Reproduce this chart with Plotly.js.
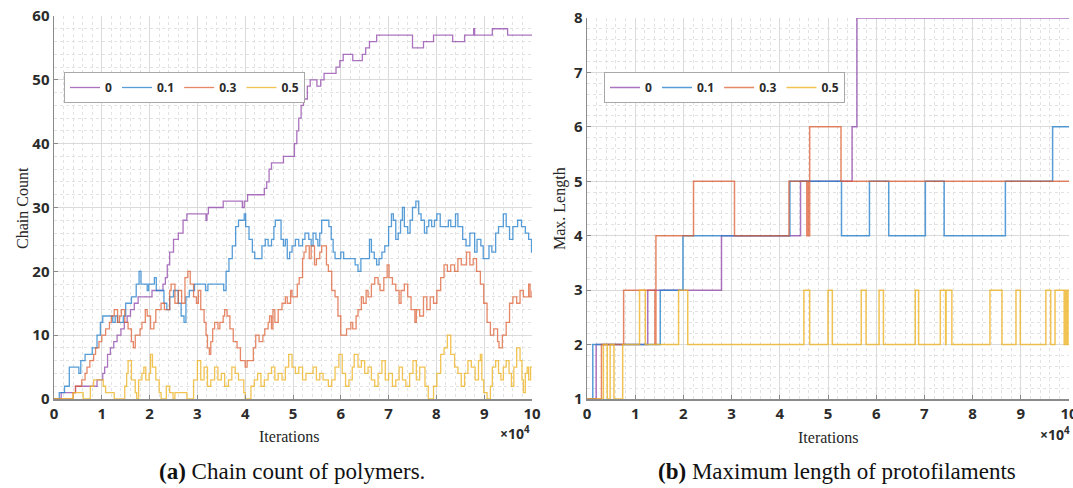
<!DOCTYPE html>
<html>
<head>
<meta charset="utf-8">
<script src="https://cdn.plot.ly/plotly-3.0.1.min.js"></script>
<style>
  html, body { margin: 0; padding: 0; background: #ffffff; }
  #chart { width: 1073px; height: 488px; }
</style>
</head>
<body>
<div id="chart"></div>
<script>
// ---------- Data (iterations in units of 10^4) ----------
const seriesNames = ["0", "0.1", "0.3", "0.5"];

// (a) Chain count of polymers
const chainIter_0  = [0,0.15,0.45,0.9,1.02,1.06,1.12,1.18,1.25,1.32,1.4,1.47,1.53,1.6,1.68,1.76,2.05,2.28,2.33,2.37,2.42,2.5,2.6,2.7,2.78,3.18,3.2,3.23,3.54,3.94,3.98,4.05,4.4,4.45,4.5,4.55,4.8,5.03,5.08,5.12,5.17,5.22,5.3,5.36,5.5,5.58,5.65,5.9,5.98,6.05,6.25,6.45,6.52,6.6,6.75,7.5,7.73,7.94,8.34,8.59,8.78,8.8,9.17,9.49,10];
const chainCount_0 = [0,1,2,3,4,5,7,8,9,10,11,12,13,14,15,16,17,18,19,21,23,25,26,28,29,28,29,30,31,30,31,32,33,34,36,37,38,40,42,44,46,47,49,50,49,50,51,52,53,54,53,54,55,56,57,55,56,57,56,57,58,57,58,57,57];

const chainIter_01  = [0,0.11,0.22,0.32,0.52,0.56,0.65,0.8,0.9,0.97,1.02,1.23,1.28,1.33,1.45,1.5,1.62,1.72,1.78,1.82,1.95,1.98,2.1,2.14,2.3,2.36,2.42,2.5,2.6,2.66,2.72,2.76,2.83,2.94,3.17,3.22,3.55,3.6,3.66,3.73,3.8,3.86,3.98,4.01,4.08,4.15,4.2,4.35,4.42,4.48,4.55,4.6,4.63,4.75,4.8,4.84,4.88,4.93,4.98,5.05,5.12,5.2,5.25,5.33,5.38,5.42,5.48,5.52,5.56,5.6,5.75,5.8,5.84,5.88,6.0,6.06,6.3,6.36,6.42,6.6,6.64,6.7,6.75,6.8,6.86,6.92,7.0,7.06,7.1,7.15,7.2,7.25,7.29,7.33,7.4,7.45,7.5,7.57,7.63,7.68,7.75,7.8,7.84,7.9,7.96,8.01,8.08,8.25,8.3,8.4,8.45,8.55,8.62,8.7,8.8,8.85,8.93,8.98,9.1,9.16,9.24,9.3,9.4,9.46,9.53,9.6,9.7,9.78,9.86,9.93,9.99,10];
const chainCount_01 = [0,1,2,5,4,6,7,8,10,12,13,12,13,12,13,15,16,18,20,18,17,18,19,17,15,14,16,17,15,13,12,16,17,18,17,18,17,20,22,24,27,28,29,27,25,23,22,24,25,24,25,27,28,25,24,25,22,23,24,25,24,25,26,25,24,26,25,24,26,28,27,25,23,22,23,22,21,20,22,25,23,22,21,22,23,24,27,29,28,25,26,28,30,27,26,28,30,31,29,28,26,27,28,27,28,29,27,28,27,29,27,25,24,26,23,25,24,22,24,23,26,27,29,27,25,27,28,27,26,25,23,23];

const chainIter_03  = [0,0.4,0.45,0.58,0.65,0.69,0.75,0.83,0.87,0.94,1.0,1.08,1.16,1.2,1.26,1.33,1.37,1.41,1.48,1.55,1.62,1.66,1.7,1.8,1.84,1.91,1.95,2.02,2.09,2.13,2.24,2.31,2.42,2.45,2.53,2.6,2.67,2.74,2.8,2.85,2.92,2.98,3.02,3.07,3.14,3.18,3.21,3.25,3.28,3.32,3.36,3.43,3.47,3.54,3.57,3.62,3.68,3.75,3.83,3.9,4.0,4.04,4.17,4.22,4.29,4.37,4.41,4.48,4.51,4.55,4.58,4.62,4.69,4.77,4.84,4.88,4.95,4.98,5.09,5.13,5.2,5.23,5.27,5.34,5.38,5.45,5.49,5.56,5.6,5.7,5.74,5.81,5.88,5.94,6.0,6.12,6.21,6.25,6.32,6.36,6.43,6.47,6.53,6.57,6.64,6.71,6.78,6.82,6.9,6.97,7.01,7.08,7.15,7.22,7.26,7.33,7.4,7.47,7.55,7.58,7.65,7.73,7.8,7.87,7.94,8.01,8.09,8.16,8.23,8.3,8.38,8.45,8.52,8.63,8.7,8.77,8.84,8.92,8.99,9.06,9.13,9.2,9.28,9.31,9.38,9.46,9.53,9.6,9.68,9.75,9.82,9.93,9.96,10];
const chainCount_03 = [0,1,2,3,4,5,6,7,8,9,10,11,12,13,14,12,13,14,12,11,9,8,10,11,12,14,13,11,12,14,15,14,17,18,15,17,15,19,20,18,16,15,17,14,12,10,8,7,9,11,12,11,12,13,14,13,11,9,8,6,5,6,8,10,9,10,11,12,13,11,14,12,14,15,16,15,17,16,18,19,22,23,24,22,24,21,22,23,24,21,20,17,16,13,10,11,12,11,13,14,16,15,17,16,18,19,18,17,19,21,19,18,17,15,17,18,16,14,12,14,13,16,14,16,15,17,19,21,20,21,20,22,21,23,21,22,20,18,15,12,10,11,9,8,10,12,15,16,15,17,16,18,16,17];

const chainIter_05  = [0,0.4,0.61,0.76,0.83,1.03,1.08,1.26,1.48,1.52,1.55,1.62,1.7,1.73,1.77,1.84,1.88,1.92,1.99,2.02,2.06,2.13,2.2,2.24,2.35,2.42,2.49,2.53,2.78,2.92,3.0,3.07,3.14,3.21,3.28,3.36,3.43,3.5,3.57,3.65,3.72,3.79,3.86,3.97,4.0,4.12,4.19,4.26,4.33,4.4,4.48,4.55,4.62,4.69,4.77,4.84,4.91,4.98,5.05,5.12,5.2,5.27,5.42,5.49,5.56,5.63,5.74,5.81,5.88,5.96,6.03,6.1,6.17,6.24,6.28,6.36,6.43,6.5,6.57,6.64,6.71,6.78,6.86,6.93,7.0,7.08,7.15,7.22,7.29,7.36,7.44,7.51,7.58,7.65,7.76,7.83,7.94,8.01,8.09,8.16,8.23,8.3,8.38,8.45,8.52,8.59,8.66,8.73,8.81,8.88,8.92,8.95,8.99,9.06,9.13,9.17,9.24,9.3,9.35,9.4,9.46,9.52,9.57,9.62,9.68,9.75,9.79,9.82,9.86,9.9,9.93,9.97,10];
const chainCount_05 = [0,1,0,2,3,2,1,0,2,4,6,3,1,0,3,4,5,3,4,7,5,3,1,0,2,1,0,1,0,3,6,3,5,2,3,5,3,4,2,3,5,4,3,1,0,2,3,4,2,3,4,5,3,4,3,5,7,5,4,5,3,4,5,3,4,3,2,3,5,7,4,2,3,5,7,5,6,4,5,3,2,4,6,3,4,2,3,5,3,2,4,6,3,5,2,0,2,4,7,8,10,7,5,4,2,4,6,5,3,6,7,3,1,0,2,5,6,4,3,5,6,4,2,5,8,6,3,1,4,5,3,5,5];

// (b) Maximum length of protofilaments
const lenIter_0  = [0,0.19,1.26,2.79,4.43,5.5,5.6,10];
const maxLen_0   = [1,2,3,4,5,6,8,8];
const lenIter_01 = [0,0.12,1.52,1.99,4.21,5.28,5.86,6.26,7.02,7.41,8.68,9.66,10];
const maxLen_01  = [1,2,3,4,5,4,5,4,5,4,5,6,6];
const lenIter_03 = [0,0.3,0.76,1.41,1.43,2.21,3.06,4.19,4.56,4.58,4.6,4.62,5.27,10];
const maxLen_03  = [1,2,3,2,4,5,4,5,4,5,4,6,5,5];
const lenIter_05 = [0,0.34,0.42,0.48,0.56,0.74,1.09,1.21,1.9,2.09,4.5,4.62,5.0,5.09,5.69,5.79,6.06,6.15,6.81,6.88,7.33,7.44,7.45,7.57,8.36,8.61,8.9,8.99,9.52,9.62,9.71,9.9,9.93,9.96,9.98,10];
const maxLen_05  = [1,2,1,2,1,2,3,2,3,2,3,2,3,2,3,2,3,2,3,2,3,2,3,2,3,2,3,2,3,2,3,2,3,2,3,3];

const xTickVals = [0,1,2,3,4,5,6,7,8,9,10];
const xTickText = ["0","1","2","3","4","5","6","7","8","9","10"];

// ---------- Styling ----------
const colors = ["rgba(150,80,175,0.8)", "rgba(40,130,205,0.78)", "rgba(220,90,45,0.72)", "rgba(238,180,40,0.8)"];
const W = 1073, H = 488;
const px = v => v / W;
const py = v => 1 - v / H;

const chainX = [chainIter_0, chainIter_01, chainIter_03, chainIter_05];
const chainY = [chainCount_0, chainCount_01, chainCount_03, chainCount_05];
const lenX = [lenIter_0, lenIter_01, lenIter_03, lenIter_05];
const lenY = [maxLen_0, maxLen_01, maxLen_03, maxLen_05];

const traces = [];
seriesNames.forEach((n, i) => {
  traces.push({
    type: "scatter", mode: "lines", name: n,
    x: chainX[i], y: chainY[i], xaxis: "x", yaxis: "y", legend: "legend",
    line: { shape: "hv", width: 1.3, color: colors[i] }, hoverinfo: "skip"
  });
});
seriesNames.forEach((n, i) => {
  traces.push({
    type: "scatter", mode: "lines", name: n,
    x: lenX[i], y: lenY[i], xaxis: "x2", yaxis: "y2", legend: "legend2",
    line: { shape: "hv", width: 1.5, color: colors[i] }, hoverinfo: "skip"
  });
});

const tickFont = { family: "Open Sans, sans-serif", size: 15, color: "#2b2b2b", weight: "bold" };
function axisBase(extra) {
  return Object.assign({
    showline: true, linecolor: "#8a8a8a", linewidth: 1.5,
    ticks: "inside", ticklen: 4, tickcolor: "#8a8a8a", tickwidth: 1,
    showgrid: true, gridcolor: "#dadada", gridwidth: 1,
    zeroline: false, tickfont: tickFont, fixedrange: true, mirror: false,
    ticklabeloverflow: "allow"
  }, extra);
}

const legendFont = { family: "Open Sans, sans-serif", size: 12, color: "#2b2b2b", weight: "bold" };
const layout = {
  width: W, height: H,
  margin: { l: 0, r: 0, t: 0, b: 0 },
  paper_bgcolor: "#ffffff", plot_bgcolor: "#ffffff",
  showlegend: true,
  xaxis: axisBase({
    domain: [px(54), px(532)], range: [0, 10], anchor: "y",
    tickvals: xTickVals, ticktext: xTickText,
    minor: { dtick: 0.2, showgrid: true, gridcolor: "#e2e2e2", griddash: "dot", gridwidth: 1, ticks: "" }
  }),
  yaxis: axisBase({
    domain: [py(399), py(16)], range: [0, 60], dtick: 10, anchor: "x",
    minor: { dtick: 2, showgrid: true, gridcolor: "#e2e2e2", griddash: "dot", gridwidth: 1, ticks: "" }
  }),
  xaxis2: axisBase({
    domain: [px(587), px(1069)], range: [0, 10], anchor: "y2",
    tickvals: xTickVals, ticktext: xTickText,
    minor: { dtick: 0.2, showgrid: true, gridcolor: "#e2e2e2", griddash: "dot", gridwidth: 1, ticks: "" }
  }),
  yaxis2: axisBase({
    domain: [py(399), py(18)], range: [1, 8], dtick: 1, anchor: "x2",
    minor: { dtick: 0.2, showgrid: true, gridcolor: "#e2e2e2", griddash: "dot", gridwidth: 1, ticks: "" }
  }),
  legend: {
    x: px(64), y: py(72), xanchor: "left", yanchor: "top", orientation: "h",
    bgcolor: "#ffffff", bordercolor: "#a8a8a8", borderwidth: 1,
    font: legendFont, itemwidth: 30, tracegroupgap: 0
  },
  legend2: {
    x: px(604), y: py(72), xanchor: "left", yanchor: "top", orientation: "h",
    bgcolor: "#ffffff", bordercolor: "#a8a8a8", borderwidth: 1,
    font: legendFont, itemwidth: 30, tracegroupgap: 0
  },
  annotations: [
    { text: "Chain Count", x: px(22), y: py(208), xref: "paper", yref: "paper", showarrow: false,
      xanchor: "center", yanchor: "middle",
      textangle: -90, font: { family: "Liberation Serif, serif", size: 16, color: "#262626" } },
    { text: "Iterations", x: px(289), y: py(436), xref: "paper", yref: "paper", showarrow: false,
      xanchor: "center", yanchor: "middle",
      font: { family: "Liberation Serif, serif", size: 16, color: "#262626" } },
    { text: "×10<sup>4</sup>", x: px(532), y: py(433), xref: "paper", yref: "paper", showarrow: false,
      xanchor: "right", yanchor: "middle",
      font: { family: "Open Sans, sans-serif", size: 14, color: "#2b2b2b", weight: "bold" } },
    { text: "Max. Length", x: px(560), y: py(208), xref: "paper", yref: "paper", showarrow: false,
      xanchor: "center", yanchor: "middle",
      textangle: -90, font: { family: "Liberation Serif, serif", size: 16, color: "#262626" } },
    { text: "Iterations", x: px(828), y: py(437), xref: "paper", yref: "paper", showarrow: false,
      xanchor: "center", yanchor: "middle",
      font: { family: "Liberation Serif, serif", size: 16, color: "#262626" } },
    { text: "×10<sup>4</sup>", x: px(1072), y: py(434), xref: "paper", yref: "paper", showarrow: false,
      xanchor: "right", yanchor: "middle",
      font: { family: "Open Sans, sans-serif", size: 14, color: "#2b2b2b", weight: "bold" } },
    { text: "<b>(a)</b> Chain count of polymers.", x: px(292), y: py(471), xref: "paper", yref: "paper", showarrow: false,
      xanchor: "center", yanchor: "middle",
      font: { family: "Liberation Serif, serif", size: 23, color: "#111111" } },
    { text: "<b>(b)</b> Maximum length of protofilaments", x: px(837), y: py(471), xref: "paper", yref: "paper", showarrow: false,
      xanchor: "center", yanchor: "middle",
      font: { family: "Liberation Serif, serif", size: 23, color: "#111111" } }
  ]
};

Plotly.newPlot("chart", traces, layout, { staticPlot: true, displayModeBar: false });
</script>
</body>
</html>
